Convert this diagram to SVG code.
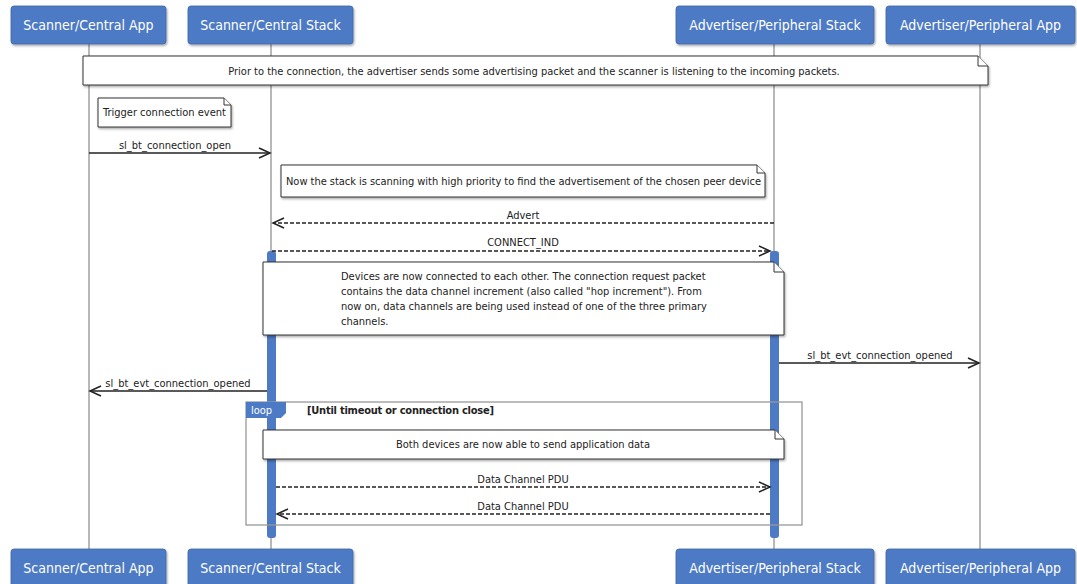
<svg xmlns="http://www.w3.org/2000/svg" width="1077" height="584" viewBox="0 0 1077 584">
<style>
.pbox{fill:#4d7ac4;stroke:#3f67a8;stroke-width:0.8;filter:url(#sh)}
.ptxt{font-family:"DejaVu Sans Condensed","Liberation Sans",sans-serif;font-size:14px;fill:#fff;text-anchor:middle}
.life{stroke:#a0a0a0;stroke-width:1.5;fill:none}
.note{fill:#fff;stroke:#333;stroke-width:1;filter:url(#sh)}
.fold{fill:#fff;stroke:#333;stroke-width:1}
.ntxt{font-family:"DejaVu Sans Condensed","Liberation Sans",sans-serif;font-size:11px;fill:#222}
.mtxt{font-family:"DejaVu Sans Condensed","Liberation Sans",sans-serif;font-size:11px;fill:#222;text-anchor:middle}
.msg{stroke:#222;stroke-width:1.4;fill:none}
.dash{stroke-dasharray:4,2}
.act{fill:#4d7ac4;stroke:none}
.frame{fill:none;stroke:#999;stroke-width:1.3}
</style>
<defs>
<filter id="sh" x="-5%" y="-10%" width="110%" height="130%">
<feDropShadow dx="1" dy="1.5" stdDeviation="1" flood-color="#000" flood-opacity="0.35"/>
</filter>
<marker id="ar" markerWidth="14" markerHeight="14" refX="12" refY="7" orient="auto" markerUnits="userSpaceOnUse">
<path d="M1,2 L12,7 L1,12" fill="none" stroke="#222" stroke-width="1.5"/>
</marker>
</defs>

<g id="lifelines">
<line class="life" x1="89" y1="44" x2="89" y2="549"/>
<line class="life" x1="271" y1="44" x2="271" y2="549"/>
<line class="life" x1="774" y1="44" x2="774" y2="549"/>
<line class="life" x1="980" y1="44" x2="980" y2="549"/>
</g>

<g id="p-scanner-app">
<rect class="pbox" x="11" y="6" width="155" height="38" rx="3"/>
<text class="ptxt" x="88.5" y="30">Scanner/Central App</text>
<rect class="pbox" x="11" y="549" width="155" height="38" rx="3"/>
<text class="ptxt" x="88.5" y="573">Scanner/Central App</text>
</g>
<g id="p-scanner-stack">
<rect class="pbox" x="188" y="6" width="165" height="38" rx="3"/>
<text class="ptxt" x="270.5" y="30">Scanner/Central Stack</text>
<rect class="pbox" x="188" y="549" width="165" height="38" rx="3"/>
<text class="ptxt" x="270.5" y="573">Scanner/Central Stack</text>
</g>
<g id="p-adv-stack">
<rect class="pbox" x="676" y="6" width="198" height="38" rx="3"/>
<text class="ptxt" x="775" y="30">Advertiser/Peripheral Stack</text>
<rect class="pbox" x="676" y="549" width="198" height="38" rx="3"/>
<text class="ptxt" x="775" y="573">Advertiser/Peripheral Stack</text>
</g>
<g id="p-adv-app">
<rect class="pbox" x="886" y="6" width="189" height="38" rx="3"/>
<text class="ptxt" x="980.5" y="30">Advertiser/Peripheral App</text>
<rect class="pbox" x="886" y="549" width="189" height="38" rx="3"/>
<text class="ptxt" x="980.5" y="573">Advertiser/Peripheral App</text>
</g>

<g id="activations">
<rect class="act" x="267" y="251" width="9" height="287" rx="3"/>
<rect class="act" x="770" y="251" width="9" height="287" rx="3"/>
</g>

<g id="loop-frame">
<rect class="frame" x="246" y="402" width="556" height="123"/>
<path d="M246,402 H286 V413 L281,418 H246 Z" fill="#4d7ac4"/>
<text x="251" y="414" style="font-family:'DejaVu Sans Condensed','Liberation Sans',sans-serif;font-size:11px;fill:#fff">loop</text>
<text x="307" y="414" textLength="187" style="font-family:'DejaVu Sans Condensed','Liberation Sans',sans-serif;font-size:11px;font-weight:bold;fill:#222">[Until timeout or connection close]</text>
</g>

<g id="note-prior">
<path class="note" d="M83,56 H978 L988,66 V85 H83 Z"/>
<path class="fold" d="M978,56 V66 H988"/>
<text class="mtxt" x="534" y="75">Prior to the connection, the advertiser sends some advertising packet and the scanner is listening to the incoming packets.</text>
</g>

<g id="note-trigger">
<path class="note" d="M98,98 H224 L231,105 V127 H98 Z"/>
<path class="fold" d="M224,98 V105 H231"/>
<text class="ntxt" x="103" y="116">Trigger connection event</text>
</g>

<g id="note-scanning">
<path class="note" d="M281,165 H757 L765,173 V197 H281 Z"/>
<path class="fold" d="M757,165 V173 H765"/>
<text class="ntxt" x="286" y="185" textLength="475">Now the stack is scanning with high priority to find the advertisement of the chosen peer device</text>
</g>

<g id="note-connected">
<path class="note" d="M263,262 H774 L784,272 V335 H263 Z"/>
<path class="fold" d="M774,262 V272 H784"/>
<text class="ntxt" x="341" y="280">Devices are now connected to each other. The connection request packet</text>
<text class="ntxt" x="341" y="295">contains the data channel increment (also called "hop increment"). From</text>
<text class="ntxt" x="341" y="310">now on, data channels are being used instead of one of the three primary</text>
<text class="ntxt" x="341" y="325">channels.</text>
</g>

<g id="note-both">
<path class="note" d="M263,430 H775 L784,439 V459 H263 Z"/>
<path class="fold" d="M775,430 V439 H784"/>
<text class="mtxt" x="523" y="448">Both devices are now able to send application data</text>
</g>

<g id="connectors">
<line class="msg" x1="89" y1="153" x2="270" y2="153" marker-end="url(#ar)"/>
<text class="mtxt" x="175" y="149">sl_bt_connection_open</text>

<line class="msg dash" x1="774" y1="223" x2="273" y2="223" marker-end="url(#ar)"/>
<text class="mtxt" x="523" y="219">Advert</text>

<line class="msg dash" x1="272" y1="251" x2="770" y2="251" marker-end="url(#ar)"/>
<text class="mtxt" x="523" y="246">CONNECT_IND</text>

<line class="msg" x1="779" y1="363" x2="979" y2="363" marker-end="url(#ar)"/>
<text class="mtxt" x="880" y="359">sl_bt_evt_connection_opened</text>

<line class="msg" x1="267" y1="391" x2="90" y2="391" marker-end="url(#ar)"/>
<text class="mtxt" x="178" y="387">sl_bt_evt_connection_opened</text>

<line class="msg dash" x1="276" y1="487" x2="770" y2="487" marker-end="url(#ar)"/>
<text class="mtxt" x="523" y="483">Data Channel PDU</text>

<line class="msg dash" x1="770" y1="514" x2="277" y2="514" marker-end="url(#ar)"/>
<text class="mtxt" x="523" y="510">Data Channel PDU</text>
</g>
</svg>
